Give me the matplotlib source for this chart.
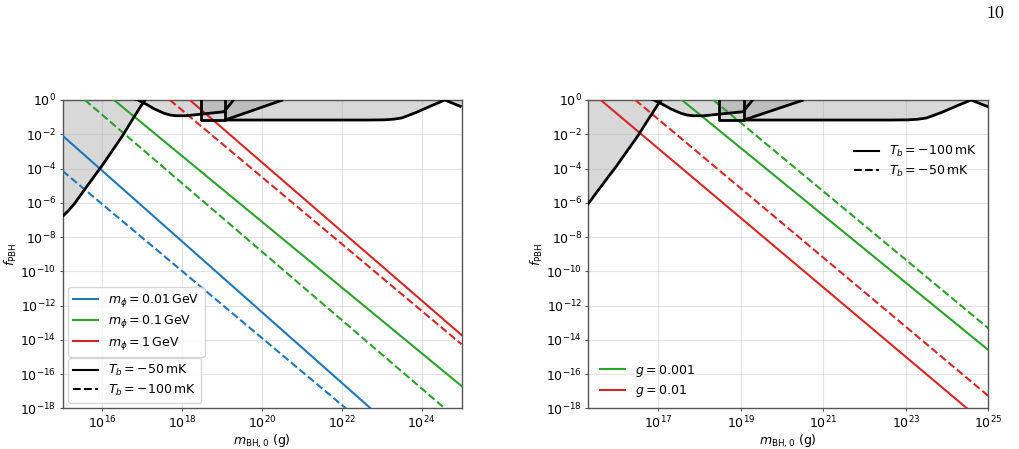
import numpy as np
import matplotlib
matplotlib.use("Agg")
import matplotlib.pyplot as plt
from matplotlib.lines import Line2D

# ---------------- data (log10 values) ----------------
# Shared constraint curves: log10(m_BH,0 / g) and log10(f_PBH)
EVAP_LOGM = [15.0, 15.15, 15.3, 15.5, 15.75, 16.0, 16.25, 16.5, 16.75, 17.0, 17.07, 17.15]
EVAP_LOGF = [-6.8, -6.45, -6.05, -5.4, -4.6, -3.8, -2.95, -2.1, -1.15, -0.22, 0.0, 0.3]

HSC_LOGM = [16.75, 16.89, 17.1, 17.3, 17.55, 17.7, 17.85, 18.1, 18.46, 19.07, 19.08, 19.3]
HSC_LOGF = [0.12, 0.0, -0.25, -0.52, -0.78, -0.88, -0.92, -0.92, -0.83, -0.68, -0.6, 0.05]

BOX_LOGM = [18.46, 19.07]
BOX_LOGF = [-1.17, -1.17]

DIAG_LOGM = [19.07, 20.52]
DIAG_LOGF = [-1.17, 0.0]

FLAT_LOGM = [19.07, 22.6, 23.05, 23.3, 23.5, 23.85, 24.24, 24.58, 25.0]
FLAT_LOGF = [-1.17, -1.17, -1.16, -1.12, -1.05, -0.74, -0.34, 0.0, -0.4]

# Left panel lines: (log m start, log m end), (log f start, log f end)
LEFT_LABELS = [r"$m_\phi = 0.01\,\mathrm{GeV}$", r"$m_\phi = 0.1\,\mathrm{GeV}$", r"$m_\phi = 1\,\mathrm{GeV}$"]
LEFT_COLORS = ["#1f77b4", "#2ca02c", "#d62728"]
LEFT_SOLID_LOGM = [[15.0, 22.72], [16.29, 25.0], [18.19, 25.0]]
LEFT_SOLID_LOGF = [[-2.08, -18.0], [0.0, -16.70], [0.0, -13.72]]
LEFT_DASH_LOGM = [[15.0, 22.1], [15.56, 24.58], [17.69, 25.0]]
LEFT_DASH_LOGF = [[-4.14, -18.0], [0.0, -18.0], [0.0, -14.26]]
LEFT_STYLE_LABELS = [r"$T_b = -50\,\mathrm{mK}$", r"$T_b = -100\,\mathrm{mK}$"]

# Right panel lines
RIGHT_LABELS = [r"$g = 0.001$", r"$g = 0.01$"]
RIGHT_COLORS = ["#2ca02c", "#d62728"]
RIGHT_SOLID_LOGM = [[17.57, 25.0], [15.60, 24.48]]
RIGHT_SOLID_LOGF = [[0.0, -14.6], [0.0, -18.0]]
RIGHT_DASH_LOGM = [[18.33, 25.0], [16.44, 25.0]]
RIGHT_DASH_LOGF = [[0.0, -13.33], [0.0, -17.28]]
RIGHT_STYLE_LABELS = [r"$T_b = -100\,\mathrm{mK}$", r"$T_b = -50\,\mathrm{mK}$"]

LEFT_XTICKS = [16, 18, 20, 22, 24]
RIGHT_XTICKS = [17, 19, 21, 23, 25]
YTICKS = [0, -2, -4, -6, -8, -10, -12, -14, -16, -18]
LEFT_XLIM = (1e15, 1e25)
RIGHT_XLIM = (2e15, 1e25)
YLIM = (1e-18, 1e0)


def p10(v):
    return np.power(10.0, np.asarray(v, dtype=float))


FILL_KW = dict(color="gray", alpha=0.3, lw=0, zorder=1)
EDGE_KW = dict(color="black", lw=2.0, zorder=4, solid_capstyle="butt")


def draw_constraints(ax):
    # evaporation
    ax.fill_between(p10(EVAP_LOGM), p10(EVAP_LOGF), 1.0, **FILL_KW)
    ax.plot(p10(EVAP_LOGM), p10(EVAP_LOGF), **EDGE_KW)
    # microlensing-like
    ax.fill_between(p10(HSC_LOGM), p10(HSC_LOGF), 1.0, **FILL_KW)
    ax.plot(p10(HSC_LOGM), p10(HSC_LOGF), **EDGE_KW)
    # box
    ax.fill_between(p10(BOX_LOGM), p10(BOX_LOGF), 1.0, **FILL_KW)
    bx = [BOX_LOGM[0], BOX_LOGM[0], BOX_LOGM[1], BOX_LOGM[1]]
    by = [0.2, BOX_LOGF[0], BOX_LOGF[1], 0.2]
    ax.plot(p10(bx), p10(by), **EDGE_KW)
    # diagonal
    ax.fill_between(p10(DIAG_LOGM), p10(DIAG_LOGF), 1.0, **FILL_KW)
    ax.plot(p10(DIAG_LOGM), p10(DIAG_LOGF), **EDGE_KW)
    # flat
    ax.fill_between(p10(FLAT_LOGM), p10(FLAT_LOGF), 1.0, **FILL_KW)
    ax.plot(p10(FLAT_LOGM), p10(FLAT_LOGF), **EDGE_KW)


def style_axes(ax, xlim, xticks):
    ax.set_xscale("log")
    ax.set_yscale("log")
    ax.set_xlim(*xlim)
    ax.set_ylim(*YLIM)
    ax.set_xticks(p10(xticks))
    ax.set_xticklabels([r"$10^{%d}$" % t for t in xticks])
    ax.set_yticks(p10(YTICKS))
    ax.set_yticklabels([r"$10^{%d}$" % t for t in YTICKS])
    ax.xaxis.set_minor_locator(matplotlib.ticker.NullLocator())
    ax.yaxis.set_minor_locator(matplotlib.ticker.NullLocator())
    ax.grid(True, which="major", color="#b0b0b0", alpha=0.35, lw=0.8, zorder=0)
    ax.tick_params(labelsize=9, length=2.5, pad=2, color="#555555")
    for s in ax.spines.values():
        s.set_color("#555555")
        s.set_linewidth(1.0)
    ax.set_xlabel(r"$m_{\rm BH,0}$ (g)", fontsize=9, labelpad=1)
    ax.set_ylabel(r"$f_{\rm PBH}$", fontsize=9, labelpad=1)


fig = plt.figure(figsize=(10.2, 4.49), dpi=100)
axL = fig.add_axes([0.0613, 0.0906, 0.3912, 0.6867])
axR = fig.add_axes([0.5768, 0.0906, 0.3922, 0.6867])

# ---------------- left panel ----------------
draw_constraints(axL)
for c, ms, fs, md, fd in zip(LEFT_COLORS, LEFT_SOLID_LOGM, LEFT_SOLID_LOGF, LEFT_DASH_LOGM, LEFT_DASH_LOGF):
    axL.plot(p10(ms), p10(fs), color=c, lw=1.5, ls="-", zorder=3)
    axL.plot(p10(md), p10(fd), color=c, lw=1.5, ls="--", zorder=3)
style_axes(axL, LEFT_XLIM, LEFT_XTICKS)

h1 = [Line2D([], [], color=c, lw=1.5) for c in LEFT_COLORS]
leg1 = axL.legend(h1, LEFT_LABELS, loc="lower left", bbox_to_anchor=(0.0145, 0.167),
                  borderaxespad=0, fontsize=9, labelspacing=0.35)
axL.add_artist(leg1)
h2 = [Line2D([], [], color="black", lw=1.5, ls="-"), Line2D([], [], color="black", lw=1.5, ls="--")]
axL.legend(h2, LEFT_STYLE_LABELS, loc="lower left", bbox_to_anchor=(0.0145, 0.018),
           borderaxespad=0, fontsize=9, labelspacing=0.35)

# ---------------- right panel ----------------
draw_constraints(axR)
for c, ms, fs, md, fd in zip(RIGHT_COLORS, RIGHT_SOLID_LOGM, RIGHT_SOLID_LOGF, RIGHT_DASH_LOGM, RIGHT_DASH_LOGF):
    axR.plot(p10(ms), p10(fs), color=c, lw=1.5, ls="-", zorder=3)
    axR.plot(p10(md), p10(fd), color=c, lw=1.5, ls="--", zorder=3)
style_axes(axR, RIGHT_XLIM, RIGHT_XTICKS)

h3 = [Line2D([], [], color="black", lw=1.5, ls="-"), Line2D([], [], color="black", lw=1.5, ls="--")]
leg3 = axR.legend(h3, RIGHT_STYLE_LABELS, loc="upper right", bbox_to_anchor=(0.984, 0.873),
                  borderaxespad=0, fontsize=9, labelspacing=0.35, frameon=False)
axR.add_artist(leg3)
h4 = [Line2D([], [], color=c, lw=1.5) for c in RIGHT_COLORS]
axR.legend(h4, RIGHT_LABELS, loc="lower left", bbox_to_anchor=(0.017, 0.014),
           borderaxespad=0, fontsize=9, labelspacing=0.35, frameon=False)

fig.text(0.985, 0.97, "10", family="cmr10", fontsize=13, ha="right", va="center")

fig.savefig("out.png", dpi=100)
